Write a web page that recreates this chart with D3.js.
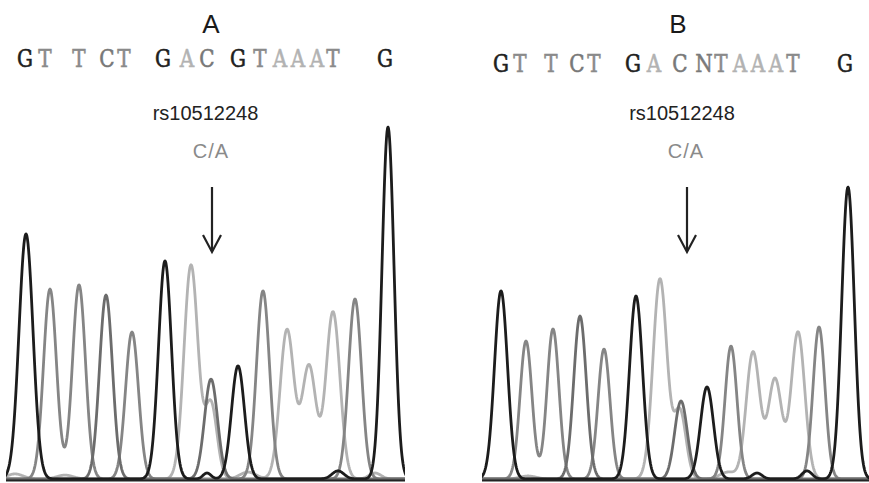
<!DOCTYPE html>
<html><head><meta charset="utf-8">
<script src="https://cdn.jsdelivr.net/npm/d3@7"></script>
<style>body{margin:0;background:#fff}</style>
</head><body>
<script>
// ---- Data: peaks per channel, [scan position, signal, peak width (sigma, scan units)] ----
// Panel A
const peaksA_G = [[21,817,7],[160,727,6.5],[233,377,6.5],[383,1173,6],[202,20,4],[333,27,6]];
const peaksA_A = [[186,713,7],[206,250,6],[282,497,7],[304,377,7],[328,557,7],[10,17,8],[60,13,8],[243,23,8],[370,20,6]];
const peaksA_T = [[45,633,6.5],[74,647,6.5],[127,490,6.5],[258,627,6.5],[350,600,6.5]];
const peaksA_C = [[101,613,6.5],[206,333,6.5]];
// Panel B
const peaksB_G = [[21,627,6.5],[156,610,6.5],[227,307,6.5],[368,973,6.3],[277,20,5],[327,27,5]];
const peaksB_A = [[180,667,7],[200,225,6],[273,423,6.8],[295,333,6.8],[318,490,6.8],[48,10,8],[248,23,8]];
const peaksB_T = [[46,460,6],[73,500,6],[124,433,6],[251,443,6],[339,507,6]];
const peaksB_C = [[100,543,6.3],[201,260,6.3]];

// Base calls (letters) and their scan positions
const basesA = ["G","T","T","C","T","G","A","C","G","T","A","A","A","T","G"];
const callPosA = [20,40,74,102,119,158,182,202,233,255,275,293,312,328,380];
const basesB = ["G","T","T","C","T","G","A","C","N","T","A","A","A","T","G"];
const callPosB = [21,40,71,97,114,153,174,200,224,241,260,278,296,313,365];

const panelTitles = ["A","B"];
const snpLabel = "rs10512248";
const alleleLabel = "C/A";
const snpScan = [207, 207];

// ---- Styles ----
const traceColor = {G:"#1c1c1c", A:"#b3b3b3", T:"#858585", C:"#6c6c6c"};
const letterColor = {G:"#202020", A:"#b2b2b2", T:"#8a8a8a", C:"#787878", N:"#7a7a7a"};

const W = 869, H = 483;
const svg = d3.select("body").append("svg").attr("width", W).attr("height", H)
  .style("background","#fff");

const y = d3.scaleLinear().domain([0, 1200]).range([479, 119]);

const panels = [
  {title: panelTitles[0], scanMax: 400, range: [5, 405], clip: [6, 405],
   ch: {A: peaksA_A, T: peaksA_T, C: peaksA_C, G: peaksA_G},
   bases: basesA, calls: callPosA, letterY: 67, snp: snpScan[0], labelX: 205.5},
  {title: panelTitles[1], scanMax: 390, range: [480, 870], clip: [482, 869],
   ch: {A: peaksB_A, T: peaksB_T, C: peaksB_C, G: peaksB_G},
   bases: basesB, calls: callPosB, letterY: 72, snp: snpScan[1], labelX: 682}
];

panels.forEach((p, i) => {
  const x = d3.scaleLinear().domain([0, p.scanMax]).range(p.range);
  const g = svg.append("g");
  const cid = "clip" + i;
  svg.append("clipPath").attr("id", cid).append("rect")
    .attr("x", p.clip[0]).attr("y", 100).attr("width", p.clip[1] - p.clip[0]).attr("height", 381);

  const line = d3.line().x(d => x(d[0])).y(d => y(d[1]));
  const scans = d3.range(-20, p.scanMax + 20, 0.5);
  const tg = g.append("g").attr("clip-path", `url(#${cid})`);
  ["A","T","C","G"].forEach(k => {
    const pk = p.ch[k];
    const pts = scans.map(s => [s, d3.sum(pk, q => q[1] * Math.exp(-((s - q[0]) ** 2) / (2 * q[2] * q[2])))]);
    tg.append("path").datum(pts).attr("d", line)
      .attr("fill", "none").attr("stroke", traceColor[k])
      .attr("stroke-width", 2.8).attr("stroke-linejoin", "round");
  });

  // baseline
  g.append("line").attr("x1", p.clip[0]).attr("x2", p.clip[1])
    .attr("y1", 480.5).attr("y2", 480.5).attr("stroke", "#222").attr("stroke-width", 2);

  // title
  const cx = x(p.snp) - (i === 0 ? 1 : 9);
  g.append("text").attr("x", cx).attr("y", 33).attr("text-anchor", "middle")
    .attr("font-family", "Liberation Sans, Arial, sans-serif").attr("font-size", 26)
    .attr("fill", "#1a1a1a").text(p.title);

  // sequence letters (slightly condensed serif to mimic the typewriter face)
  g.selectAll("text.base").data(p.bases).enter().append("text")
    .attr("class", "base")
    .attr("transform", (d, j) => `translate(${x(p.calls[j])},${p.letterY}) scale(0.8,1)`)
    .attr("text-anchor", "middle")
    .attr("font-family", "DejaVu Serif, Courier New, serif")
    .attr("font-size", 25)
    .attr("stroke", d => letterColor[d]).attr("stroke-width", 0.6)
    .attr("fill", d => letterColor[d]).text(d => d);

  // SNP label
  g.append("text").attr("x", p.labelX).attr("y", 120).attr("text-anchor", "middle")
    .attr("font-family", "Liberation Sans, Arial, sans-serif").attr("font-size", 20)
    .attr("fill", "#222").text(snpLabel);
  g.append("text").attr("x", x(p.snp) - 1).attr("y", 158).attr("text-anchor", "middle")
    .attr("font-family", "Liberation Sans, Arial, sans-serif").attr("font-size", 20)
    .attr("letter-spacing", 1)
    .attr("fill", "#8a8a8a").text(alleleLabel);

  // arrow
  const ax = x(p.snp);
  g.append("line").attr("x1", ax).attr("x2", ax).attr("y1", 187).attr("y2", 251)
    .attr("stroke", "#222").attr("stroke-width", 2.2);
  g.append("path").attr("d", `M${ax-9},${235}L${ax},${252}L${ax+9},${235}`)
    .attr("fill", "none").attr("stroke", "#222").attr("stroke-width", 2.2);
});
</script>
</body></html>
